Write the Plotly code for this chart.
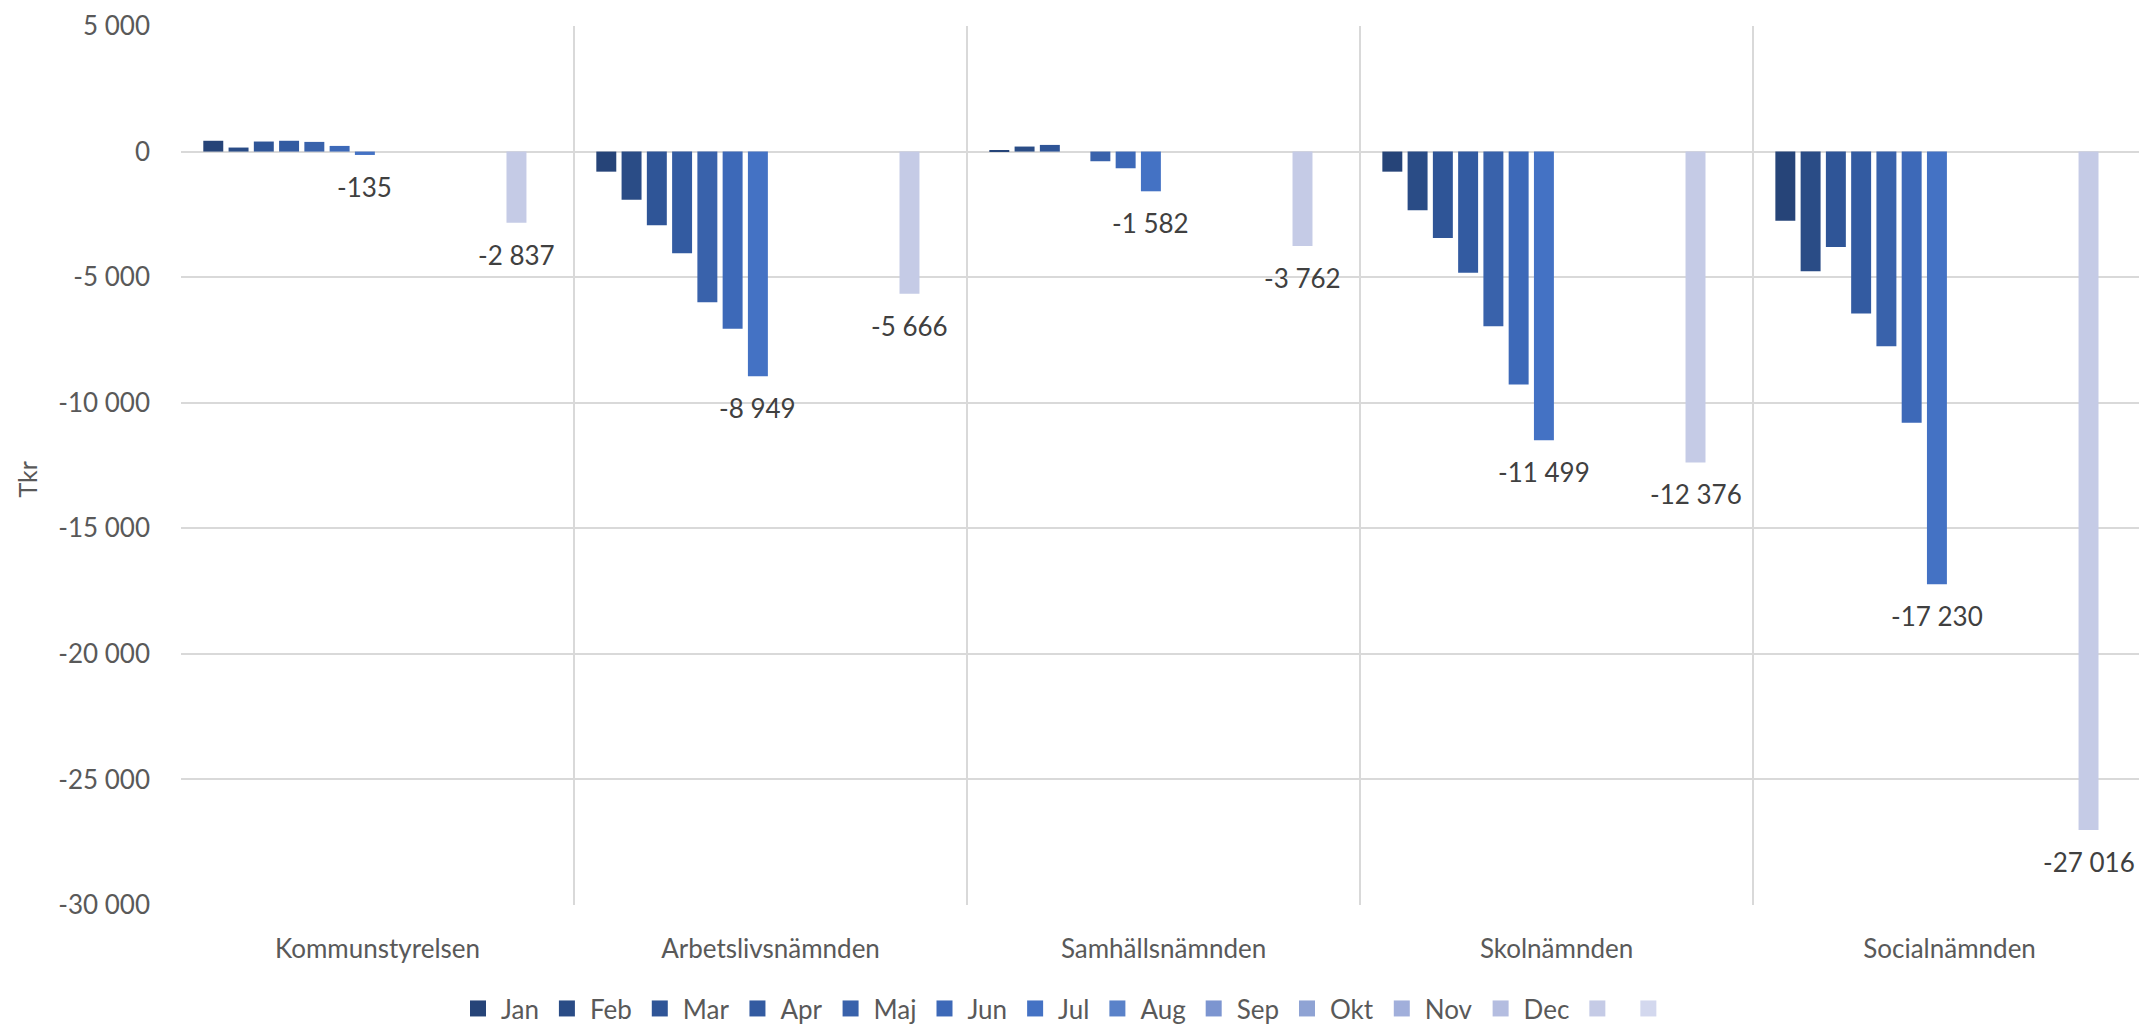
import plotly.graph_objects as go

# Budget deviation per committee, cumulative by month (Tkr)
categories = ["Kommunstyrelsen", "Arbetslivsnämnden", "Samhällsnämnden", "Skolnämnden", "Socialnämnden"]

months = ["Jan", "Feb", "Mar", "Apr", "Maj", "Jun", "Jul", "Aug", "Sep", "Okt", "Nov", "Dec", "", " "]

jan = [430, -800, 60, -800, -2750]
feb = [160, -1920, 200, -2340, -4770]
mar = [400, -2930, 265, -3440, -3800]
apr = [430, -4050, 0, -4830, -6450]
maj = [385, -6000, -385, -6960, -7750]
jun = [225, -7050, -665, -9270, -10800]
jul = [-135, -8949, -1582, -11499, -17230]
aug = [None] * 5
sep = [None] * 5
okt = [None] * 5
nov = [None] * 5
dec = [None] * 5
prognos = [-2837, -5666, -3762, -12376, -27016]
extra = [None] * 5

series = [jan, feb, mar, apr, maj, jun, jul, aug, sep, okt, nov, dec, prognos, extra]
labelled = [6, 12]

colors = ["#264478", "#2a4c86", "#2f5597", "#335ba1", "#3962ab", "#3d69b8", "#4472c4",
          "#5a82c9", "#7c95d0", "#8fa3d4", "#a1afdb", "#b4bde0", "#c5cbe6", "#d3d8ee"]

y_ticks = [5000, 0, -5000, -10000, -15000, -20000, -25000, -30000]
y_ticktext = ["5 000", "0", "-5 000", "-10 000", "-15 000", "-20 000", "-25 000", "-30 000"]

FONT = "Lato, 'Open Sans', sans-serif"
BARGAP = 0.1
GROUPGAP = 0.21
N_SLOTS = len(series)


def fmt(v):
    return f"{v:,}".replace(",", " ")


def slot_center(i):
    # centre of the i-th bar slot relative to its category centre (category units)
    slot = (1 - BARGAP) / N_SLOTS
    return -(1 - BARGAP) / 2 + (i + 0.5) * slot


fig = go.Figure()
for i, (name, vals, col) in enumerate(zip(months, series, colors)):
    fig.add_trace(go.Bar(
        name=name,
        x=categories,
        y=vals,
        marker=dict(color=col, line=dict(width=0)),
        showlegend=False,
        legendgroup=f"s{i}",
        hoverinfo="x+y+name",
    ))

# legend swatches (square markers)
for i, (name, col) in enumerate(zip(months, colors)):
    fig.add_trace(go.Scatter(
        name=name, x=[None], y=[None], mode="markers",
        marker=dict(symbol="square", size=17, color=col),
        legendgroup=f"s{i}", showlegend=True, hoverinfo="skip",
    ))

# value labels below the bar ends
for i in labelled:
    for ci, v in enumerate(series[i]):
        if v is None:
            continue
        fig.add_annotation(
            x=ci + slot_center(i), y=v, xref="x", yref="y",
            text=fmt(v), showarrow=False,
            xanchor="center", yanchor="top", yshift=-14,
            font=dict(family=FONT, size=26, color="#404040"),
        )

fig.add_annotation(
    text="Tkr", textangle=-90, showarrow=False,
    xref="paper", yref="paper", x=-0.0787, y=0.484,
    xanchor="center", yanchor="middle",
    font=dict(family=FONT, size=25, color="#595959"),
)

fig.update_layout(
    width=2139, height=1026,
    margin=dict(l=181, r=0, t=26, b=121, pad=0),
    paper_bgcolor="white", plot_bgcolor="white",
    barmode="group", bargap=BARGAP, bargroupgap=GROUPGAP,
    font=dict(family=FONT, size=26, color="#595959"),
    showlegend=True,
    legend=dict(
        orientation="h", xref="container", yref="container",
        x=0.5, xanchor="center", y=0.017, yanchor="middle",
        font=dict(family=FONT, size=26, color="#595959"),
        itemwidth=36, tracegroupgap=0,
    ),
    xaxis=dict(
        type="category", range=[-0.5, 4.482],
        tickson="boundaries", showgrid=True, gridcolor="#d9d9d9", gridwidth=2,
        showline=False, zeroline=False,
        ticks="", ticklabelstandoff=26,
        tickfont=dict(family=FONT, size=26, color="#595959"),
    ),
    yaxis=dict(
        range=[-30000, 5000], tickvals=y_ticks, ticktext=y_ticktext,
        showgrid=True, gridcolor="#d9d9d9", gridwidth=2,
        zeroline=True, zerolinecolor="#d9d9d9", zerolinewidth=2,
        showline=False, ticks="", ticklabelstandoff=30,
        tickfont=dict(family=FONT, size=26, color="#595959"),
    ),
)

fig.write_html("out.html")
